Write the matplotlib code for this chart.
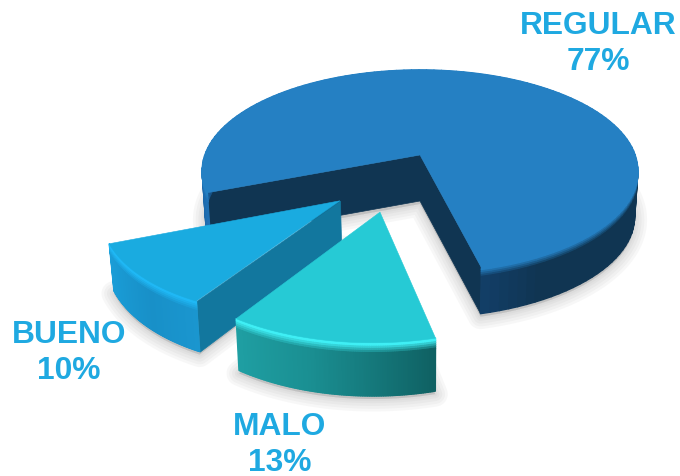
import numpy as np
import matplotlib
matplotlib.use('Agg')
import matplotlib.pyplot as plt
from matplotlib.collections import PolyCollection
from matplotlib.colors import to_rgb

plt.rcParams['font.family'] = ['Liberation Sans', 'DejaVu Sans']

# chart values, in drawing order round the pie
categories = ['REGULAR', 'BUENO', 'MALO']
values = [77, 10, 13]

# layout of the tilted pie, in pixels
cx, cy = 420.0, 156.0
rx, ry = 212.0, 97.0
persp = 0.1545
start = 14.0  # degrees from the viewer's side, going right
shifts = [(0.0, 0.0), (-0.352, -0.44), (-0.173, -0.54)]
radii = [(1.015, 1.015), (1.0, 0.93), (0.95, 0.95)]
depths = [46.0, 41.0, 41.0]
depth_pow = [0.0, 1.0, 1.0]
bottom_shrink = 0.985

# styles
top_colors = ['#2580c3', '#1aabe0', '#26cad5']
face_colors = ['#103552', '#12779e', None]
glow_colors = ['#2580c3', '#1fb8f5', '#3feff5']
rim_stops = [
    [(0.0, '#123e66'), (0.05, '#103552'), (0.88, '#103552'), (0.93, '#1a5f9c'), (1.0, '#1f6fb3')],
    [(0.0, '#1a9ed8'), (0.6, '#1890c8'), (1.0, '#1a96cf')],
    [(0.0, '#1f9fa3'), (0.4, '#1a8f92'), (0.65, '#167d80'), (1.0, '#0f6163')],
]
text_color = '#1fa9e1'
label_pos = [(598, 26), (69, 335), (280, 427)]
line_gap = 36.5


def project(u, v):
    w = 1.0 / (1.0 + persp * v)
    return cx + rx * u * w, cy - ry * v * w, w


def drop(x, y, w, i):
    d = depths[i] * w ** depth_pow[i]
    return cx + (x - cx) * bottom_shrink, y + d


def mix(a, b, t):
    a = np.array(to_rgb(a))
    b = np.array(to_rgb(b))
    return tuple(a + (b - a) * t)


def rim_color(i, f):
    stops = rim_stops[i]
    for (f0, c0), (f1, c1) in zip(stops[:-1], stops[1:]):
        if f <= f1:
            return mix(c0, c1, (f - f0) / (f1 - f0))
    return to_rgb(stops[-1][1])


fig = plt.figure(figsize=(6.8, 4.77), dpi=100)
ax = fig.add_axes([0, 0, 1, 1])
ax.set_xlim(0, 680)
ax.set_ylim(477, 0)
ax.axis('off')

total = float(sum(values))
angles = [start]
for val in values:
    angles.append(angles[-1] + 360.0 * val / total)

for i in range(len(values)):
    a = np.radians(np.linspace(angles[i], angles[i + 1], 121))
    su, sv = shifts[i]
    r = np.linspace(radii[i][0], radii[i][1], 121)
    x, y, w = project(su + r * np.sin(a), sv - r * np.cos(a))
    ax_, ay_, aw_ = project(su, sv)
    bx, by = drop(x, y, w, i)
    abx, aby = drop(ax_, ay_, aw_, i)

    # soft shadow under the slice
    px = np.r_[bx, abx]
    py = np.r_[by, aby] + 3
    for lw in [18, 14, 10, 6, 3]:
        ax.fill(px, py, facecolor='#808080', edgecolor='#808080', alpha=0.06, lw=lw,
                joinstyle='round', zorder=1 + i * 3)

    # flat side faces
    fc = face_colors[i]
    if fc is not None:
        faces = [[(ax_, ay_), (x[-1], y[-1]), (bx[-1], by[-1]), (abx, aby)]]
        if i == 0:
            faces.append([(ax_, ay_), (x[0], y[0]), (bx[0], by[0]), (abx, aby)])
        ax.add_collection(PolyCollection(faces, facecolors=fc, edgecolors=fc, lw=0.5,
                                         zorder=2 + i * 3))

    # outer rim, shaded along the arc and bright just under the top edge
    # bands go from the bottom up so the edge strokes do not streak the dark part
    ts = np.r_[np.linspace(0, 0.2, 6), 1.0]
    n = len(x)
    for k in range(len(ts) - 2, -1, -1):
        t0, t1 = ts[k], ts[k + 1]
        quads = []
        colors = []
        for j in range(n - 1):
            base = rim_color(i, j / (n - 2.0))
            quads.append([(x[j] + (bx[j] - x[j]) * t0, y[j] + (by[j] - y[j]) * t0),
                          (x[j + 1] + (bx[j + 1] - x[j + 1]) * t0, y[j + 1] + (by[j + 1] - y[j + 1]) * t0),
                          (x[j + 1] + (bx[j + 1] - x[j + 1]) * t1, y[j + 1] + (by[j + 1] - y[j + 1]) * t1),
                          (x[j] + (bx[j] - x[j]) * t1, y[j] + (by[j] - y[j]) * t1)])
            colors.append(mix(glow_colors[i], base, min(1.0, t0 / 0.16)))
        ax.add_collection(PolyCollection(quads, facecolors=colors, edgecolors=colors, lw=1.0,
                                         zorder=2 + i * 3))

    ax.fill(np.r_[x, ax_], np.r_[y, ay_], facecolor=top_colors[i], edgecolor=top_colors[i],
            lw=0.4, zorder=3 + i * 3)

for name, val, (tx, ty) in zip(categories, values, label_pos):
    ax.text(tx, ty, name, color=text_color, fontsize=22.9, fontweight='bold',
            ha='center', va='center', zorder=20)
    ax.text(tx, ty + line_gap, str(val) + '%', color=text_color, fontsize=22.9, fontweight='bold',
            ha='center', va='center', zorder=20)

fig.savefig('out.png', dpi=100)
